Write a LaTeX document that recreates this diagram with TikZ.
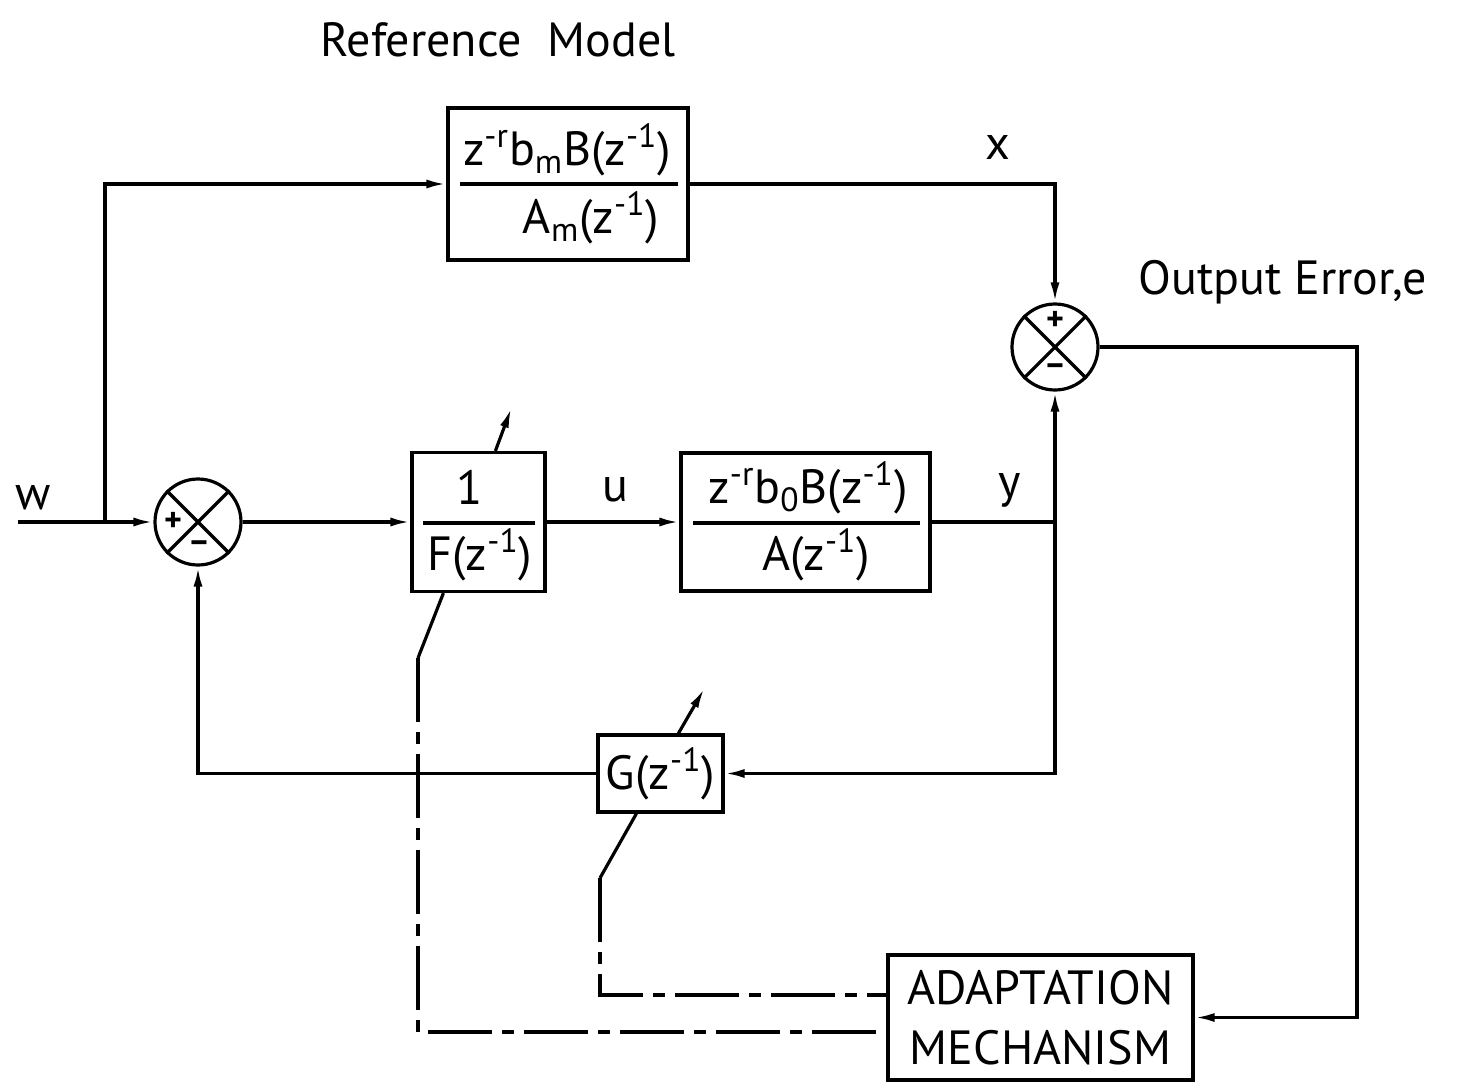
\documentclass[tikz,border=0pt]{standalone}
\usepackage{fontspec}
\setmainfont{PT Sans}
\usetikzlibrary{arrows.meta,calc}
\begin{document}
\begin{tikzpicture}[x=0.5pt,y=-0.5pt,
  line width=1.6pt,
  every node/.style={font=\fontsize{24}{28}\selectfont, inner sep=0pt},
  blk/.style={draw, rectangle, line width=1.6pt},
  sumnode/.style={draw, circle, minimum size=43pt, line width=1.6pt},
  sgn/.style={font=\fontsize{17}{20}\selectfont\bfseries},
  arr/.style={-{Latex[length=10pt,width=4.5pt]}},
  ddash/.style={line width=1.6pt, dash pattern=on 32pt off 5pt on 6pt off 5pt}]
\useasboundingbox (0,0) rectangle (1462,1092);

% titles and signal labels
\node (title) at (498,40) {Reference\ \ Model};
\node (lw) at (33,498) {w};
\node (lu) at (615,490) {u};
\node (ly) at (1010,490) {y};
\node (lx) at (998,147) {x};
\node (lerr) at (1283,282) {Output Error,e};

% blocks
\node[blk, minimum width=120pt, minimum height=76pt] (top) at (568,184) {};
\node (topn) at (567,150) {z\textsuperscript{-r}b\textsubscript{m}B(z\textsuperscript{-1})};
\node (topd) at (591,218) {A\textsubscript{m}(z\textsuperscript{-1})};
\draw ($(top.west)+(14,0)$) -- ($(top.east)+(-12,0)$);

\node[blk, minimum width=66.5pt, minimum height=69.5pt] (F) at (478.5,522) {};
\node (Fn) at (470,487) {1};
\node (Fd) at (480,555) {F(z\textsuperscript{-1})};
\draw ($(F.west)+(13,1)$) -- ($(F.east)+(-12,1)$);

\node[blk, minimum width=124.5pt, minimum height=69pt] (P) at (805.5,522) {};
\node (Pn) at (808,488) {z\textsuperscript{-r}b\textsubscript{0}B(z\textsuperscript{-1})};
\node (Pd) at (816,555) {A(z\textsuperscript{-1})};
\draw ($(P.west)+(14,1)$) -- ($(P.east)+(-12,1)$);

\node[blk, minimum width=62.5pt, minimum height=38.5pt] (G) at (660.5,773.5) {G(z\textsuperscript{-1})};

\node[blk, minimum width=152.5pt, minimum height=62.5pt, align=center,
      font=\fontsize{24}{30}\selectfont] (A) at (1040.5,1017.5) {ADAPTATION\\MECHANISM};

% summing junctions
\node[sumnode] (s1) at (198,522) {};
\draw (s1.north east) -- (s1.south west) (s1.north west) -- (s1.south east);
\node[sgn] (s1p) at (173,522) {+};
\node[sgn] (s1m) at (199,547) {–};

\node[sumnode] (s2) at (1055,347) {};
\draw (s2.north east) -- (s2.south west) (s2.north west) -- (s2.south east);
\node[sgn] (s2p) at (1055,321) {+};
\node[sgn] (s2m) at (1055,370) {–};

% connectors
\coordinate (win) at (18,522);
\coordinate (br) at (105,522);
\draw[arr] (win) -- (s1.west);
\draw[arr] (br) |- (top.west);
\draw[arr] (top.east) -| (s2.north);
\draw[arr] (s1.east) -- (F.west);
\draw[arr] (F.east) -- (P.west);
\coordinate (yb) at (s2.south |- P.east);
\draw (P.east) -- (yb);
\draw[arr] (yb) -- (s2.south);
\draw[arr] (yb) |- (G.east);
\draw[arr] (G.west) -| (s1.south);
\coordinate (ec) at (1357,347);
\draw[arr] (s2.east) -- (ec) |- (A.east);

% adjustment arrows
\draw[arr] ($(F.north west)+(85,0)$) -- ++(16,-43);
\draw[arr] ($(G.north west)+(82,0)$) -- ++(26,-45);

% adaptation links
\coordinate (fk) at (418,658);
\coordinate (gk) at (600,878);
\draw ($(F.south west)+(33,0)$) -- (fk);
\draw ($(G.south west)+(40,0)$) -- (gk);
\draw[ddash] (fk) |- ($(A.west)+(0,14.5)$);
\draw[ddash] (gk) |- ($(A.west)+(0,-22.5)$);
\end{tikzpicture}
\end{document}
